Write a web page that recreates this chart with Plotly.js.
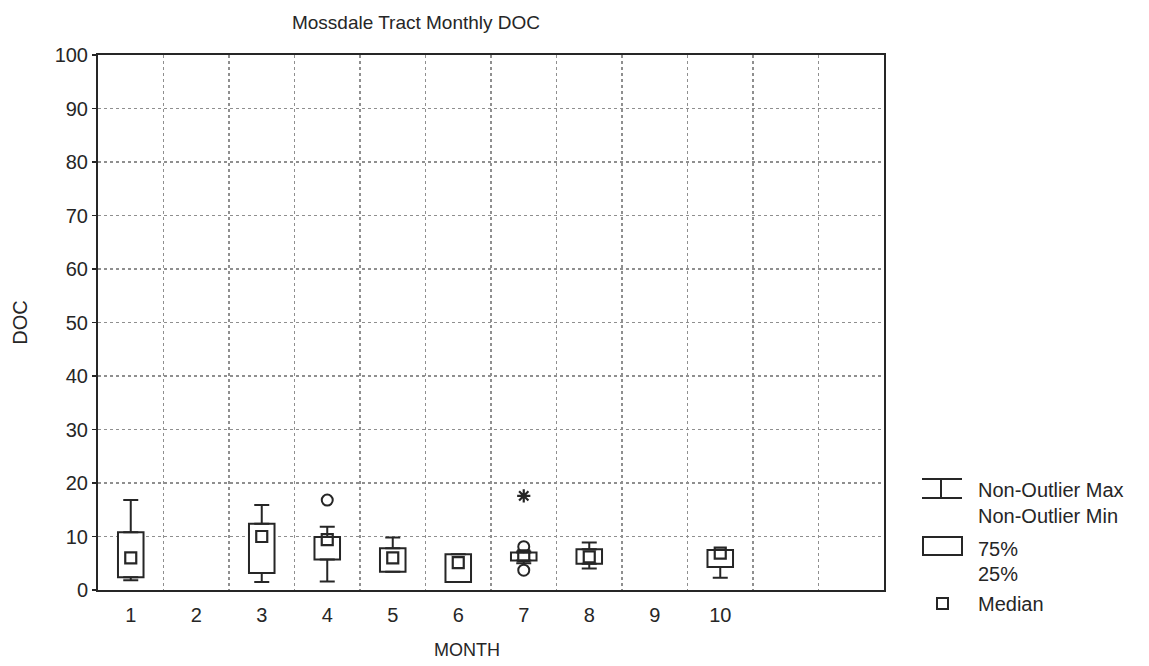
<!DOCTYPE html>
<html>
<head>
<meta charset="utf-8">
<script src="https://cdn.plot.ly/plotly-3.0.1.min.js"></script>
<style>html,body{margin:0;padding:0;background:#fff;}#chart{width:1149px;height:666px;}</style>
</head>
<body>
<div id="chart"></div>
<script>
// ---- data ----
const monthLabels = ['1','2','3','4','5','6','7','8','9','10'];
const monthTicks = [1,2,3,4,5,6,7,8,9,10];
const gridMonths = [1.5,2.5,3.5,4.5,5.5,6.5,7.5,8.5,9.5,10.5,11.5];
const months = [1, 3, 4, 5, 6, 7, 8, 10];
const q1 = [2.4, 3.2, 5.7, 3.4, 1.5, 5.5, 4.9, 4.3];
const median = [6.0, 10.0, 9.4, 6.0, 5.1, 6.4, 6.2, 6.9];
const q3 = [10.8, 12.4, 9.9, 7.8, 6.7, 7.0, 7.6, 7.5];
const nonOutlierMax = [16.8, 15.9, 11.8, 9.8, 6.7, 7.2, 8.9, 7.5];
const nonOutlierMin = [1.8, 1.5, 1.6, 3.4, 1.5, 5.0, 4.0, 2.3];
const outlierMonths = [4, 7, 7];
const outlierValues = [16.8, 8.1, 3.7];
const extremeMonths = [7];
const extremeValues = [17.6];
const yTicks = [0,10,20,30,40,50,60,70,80,90,100];

const INK = '#262626';
const FONT = 'Liberation Sans, Arial, sans-serif';

const traces = [
  { // boxes (25%-75%)
    type: 'bar', x: months, base: q1, y: q3.map((v, i) => v - q1[i]),
    width: 0.39, marker: {color: '#ffffff', line: {color: INK, width: 2}},
    showlegend: false, hoverinfo: 'skip'
  },
  { // upper whiskers
    type: 'scatter', mode: 'markers', x: months, y: q3,
    marker: {size: 1, color: 'rgba(0,0,0,0)'},
    error_y: {type: 'data', symmetric: false,
      array: nonOutlierMax.map((v, i) => v - q3[i]), arrayminus: q3.map(() => 0),
      color: INK, thickness: 2, width: 7.5},
    showlegend: false, hoverinfo: 'skip'
  },
  { // lower whiskers
    type: 'scatter', mode: 'markers', x: months, y: q1,
    marker: {size: 1, color: 'rgba(0,0,0,0)'},
    error_y: {type: 'data', symmetric: false,
      array: q1.map(() => 0), arrayminus: q1.map((v, i) => v - nonOutlierMin[i]),
      color: INK, thickness: 2, width: 7.5},
    showlegend: false, hoverinfo: 'skip'
  },
  { // medians
    type: 'scatter', mode: 'markers', x: months, y: median,
    marker: {symbol: 'square-open', size: 11, color: INK, line: {color: INK, width: 2.2}},
    showlegend: false, hoverinfo: 'skip'
  },
  { // outliers
    type: 'scatter', mode: 'markers', x: outlierMonths, y: outlierValues,
    marker: {symbol: 'circle-open', size: 11, color: INK, line: {color: INK, width: 2}},
    showlegend: false, hoverinfo: 'skip'
  },
  { // extremes
    type: 'scatter', mode: 'markers', x: extremeMonths, y: extremeValues,
    marker: {symbol: 'asterisk-open', size: 11, color: INK, line: {color: INK, width: 2.2}},
    showlegend: false, hoverinfo: 'skip'
  },
  { // helper trace to activate the grid axis
    type: 'scatter', mode: 'markers', x: [1.5], y: [0], xaxis: 'x2',
    marker: {size: 1, color: 'rgba(0,0,0,0)'}, showlegend: false, hoverinfo: 'skip'
  }
];

// legend geometry helpers (paper coordinates from pixel positions)
const L = 98, R = 884, T = 55, B = 590;
const px = x => (x - L) / (R - L);
const py = y => (B - y) / (B - T);

const shapes = [
  {type: 'line', xref: 'paper', yref: 'paper', x0: px(922), x1: px(962), y0: py(479), y1: py(479), line: {color: INK, width: 2}},
  {type: 'line', xref: 'paper', yref: 'paper', x0: px(941), x1: px(941), y0: py(479), y1: py(498), line: {color: INK, width: 2}},
  {type: 'line', xref: 'paper', yref: 'paper', x0: px(922), x1: px(962), y0: py(498), y1: py(498), line: {color: INK, width: 2}},
  {type: 'rect', xref: 'paper', yref: 'paper', x0: px(923), x1: px(962), y0: py(555), y1: py(537), line: {color: INK, width: 2}},
  {type: 'rect', xref: 'paper', yref: 'paper', x0: px(937), x1: px(948), y0: py(609), y1: py(598), line: {color: INK, width: 2}}
];

const legendText = [
  ['Non-Outlier Max', 490], ['Non-Outlier Min', 516], ['75%', 549], ['25%', 574], ['Median', 604]
];
const annotations = legendText.map(([t, y]) => ({
  text: t, xref: 'paper', yref: 'paper', x: px(976), y: py(y), xanchor: 'left', yanchor: 'middle',
  showarrow: false, font: {family: FONT, size: 20, color: INK}
}));
annotations.push({
  text: 'MONTH', xref: 'paper', yref: 'paper', x: px(467), y: py(650), xanchor: 'center', yanchor: 'middle',
  showarrow: false, font: {family: FONT, size: 18, color: INK}
});

const layout = {
  width: 1149, height: 666,
  margin: {l: L, r: 1149 - R, t: T, b: 666 - B},
  paper_bgcolor: '#ffffff', plot_bgcolor: '#ffffff',
  font: {family: FONT, color: INK},
  showlegend: false, hovermode: false, barmode: 'overlay',
  title: {text: 'Mossdale Tract Monthly DOC', font: {family: FONT, size: 19, color: INK},
    xref: 'paper', x: px(416), xanchor: 'center', yref: 'container', y: 1 - 22 / 666, yanchor: 'middle'},
  xaxis: {
    range: [0.5, 12.5], tickmode: 'array', tickvals: monthTicks, ticktext: monthLabels,
    showgrid: false, zeroline: false, ticks: '', ticklabelstandoff: 6,
    showline: true, mirror: true, linecolor: INK, linewidth: 2,
    tickfont: {family: FONT, size: 20, color: INK}
  },
  xaxis2: {
    overlaying: 'x', range: [0.5, 12.5], tickmode: 'array', tickvals: gridMonths,
    showticklabels: false, ticks: '', showgrid: true, gridcolor: '#8f8f8f', griddash: 'dot', gridwidth: 1.2,
    zeroline: false, showline: false
  },
  yaxis: {
    range: [0, 100], tickmode: 'array', tickvals: yTicks,
    showgrid: true, gridcolor: '#8f8f8f', griddash: 'dot', gridwidth: 1.2, zeroline: false,
    ticks: 'outside', ticklen: 4, tickwidth: 1.5, tickcolor: INK,
    showline: true, mirror: true, linecolor: INK, linewidth: 2,
    tickfont: {family: FONT, size: 20, color: INK},
    title: {text: 'DOC', font: {family: FONT, size: 20, color: INK}, standoff: 22}
  },
  shapes: shapes,
  annotations: annotations
};

Plotly.newPlot('chart', traces, layout, {displayModeBar: false, staticPlot: true});
</script>
</body>
</html>
